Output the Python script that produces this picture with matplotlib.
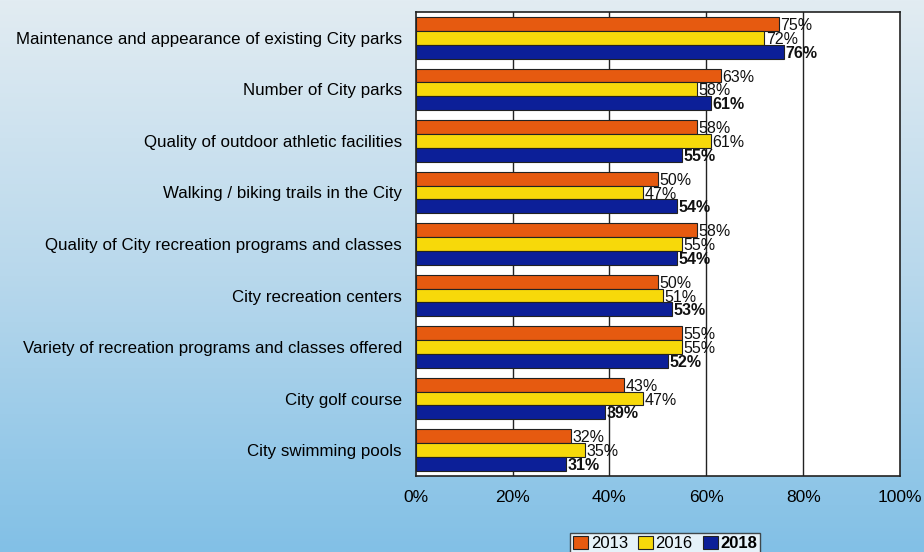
import numpy as np
import matplotlib
matplotlib.use("Agg")
import matplotlib.pyplot as plt
from matplotlib.colors import LinearSegmentedColormap

categories = [
    "Maintenance and appearance of existing City parks",
    "Number of City parks",
    "Quality of outdoor athletic facilities",
    "Walking / biking trails in the City",
    "Quality of City recreation programs and classes",
    "City recreation centers",
    "Variety of recreation programs and classes offered",
    "City golf course",
    "City swimming pools",
]
years = ["2013", "2016", "2018"]
vals_2013 = [75, 63, 58, 50, 58, 50, 55, 43, 32]
vals_2016 = [72, 58, 61, 47, 55, 51, 55, 47, 35]
vals_2018 = [76, 61, 55, 54, 54, 53, 52, 39, 31]
colors = ["#e65a10", "#f7d90a", "#0c1f98"]
xticks = [0, 20, 40, 60, 80, 100]

FONT = "Liberation Sans"

fig = plt.figure(figsize=(9.24, 5.52), dpi=100)

# light-to-deeper blue backdrop
bg = fig.add_axes([0, 0, 1, 1], zorder=-10)
grad = np.linspace(0, 1, 256).reshape(-1, 1)
cmap = LinearSegmentedColormap.from_list("sky", ["#e2ecf2", "#b8d8ec", "#82c0e6"])
bg.imshow(grad, aspect="auto", cmap=cmap, extent=[0, 1, 0, 1], origin="upper")
bg.axis("off")

ax = fig.add_axes([0.450, 0.138, 0.524, 0.840])
ax.set_facecolor("white")

n = len(categories)
y = np.arange(n)
h = 0.27
series = [vals_2013, vals_2016, vals_2018]
for k, (vals, c) in enumerate(zip(series, colors)):
    pos = y + (k - 1) * h
    ax.barh(pos, vals, height=h, color=c, edgecolor="#222222", linewidth=0.8, zorder=3)
    for p, v in zip(pos, vals):
        ax.text(v + 0.3, p + 0.03, f"{v}%", va="center", ha="left", fontsize=11.5,
                fontweight="bold" if k == 2 else "normal", color="#111111",
                family=FONT, zorder=4)

ax.set_xlim(0, 100)
ax.set_ylim(n - 0.5, -0.5)
ax.set_xticks(xticks)
ax.set_xticklabels([f"{t}%" for t in xticks], fontsize=12.5, family=FONT)
ax.tick_params(axis="x", length=0, pad=10)
ax.set_yticks(y)
ax.set_yticklabels(categories, fontsize=12.2, family=FONT)
ax.tick_params(axis="y", length=0, pad=10)
for t in xticks[1:-1]:
    ax.axvline(t, color="#222222", lw=1.0, zorder=1)
for sp in ax.spines.values():
    sp.set_color("#222222")
    sp.set_linewidth(1.2)

handles = [plt.Rectangle((0, 0), 1, 1, facecolor=c, edgecolor="#222222", lw=0.8) for c in colors]
leg = fig.legend(handles, years, loc="lower center", bbox_to_anchor=(0.720, -0.02), ncol=3,
                 frameon=True, fancybox=False, edgecolor="#222222",
                 handlelength=0.9, handleheight=0.8, handletextpad=0.15, columnspacing=0.6,
                 borderpad=0.2, prop={"family": FONT, "size": 12})
leg.get_frame().set_linewidth(1.0)
leg.get_texts()[2].set_fontweight("bold")

fig.savefig("out.png", dpi=100)
